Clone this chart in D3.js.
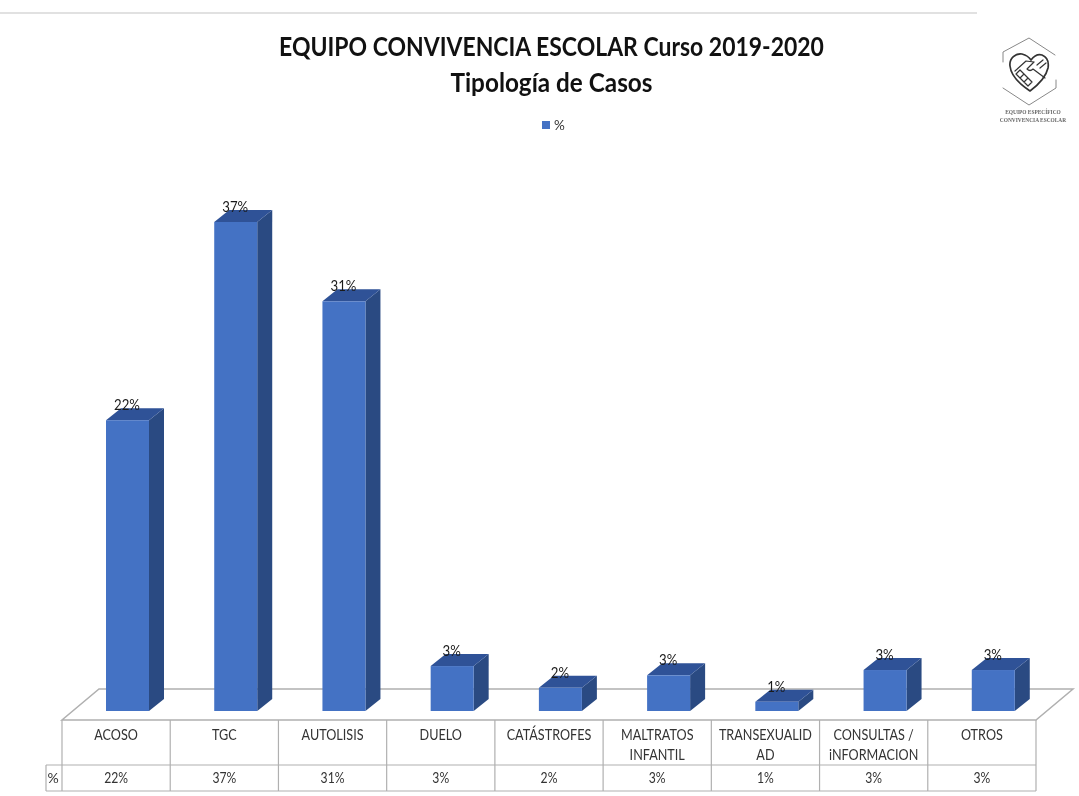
<!DOCTYPE html>
<html><head><meta charset="utf-8">
<script src="https://cdn.jsdelivr.net/npm/d3@7"></script>
<style>html,body{margin:0;padding:0;background:#fff}svg{display:block;filter:blur(0.45px)}text{font-family:Lato,"Open Sans",sans-serif}</style>
</head><body><svg id="c" width="1079" height="796"></svg>
<script>
const titleLines = ["EQUIPO CONVIVENCIA ESCOLAR Curso 2019-2020", "Tipología de Casos"];
const seriesName = "%";
const categories = ["ACOSO","TGC","AUTOLISIS","DUELO","CATÁSTROFES","MALTRATOS|INFANTIL","TRANSEXUALID|AD","CONSULTAS /|iNFORMACION","OTROS"];
const values = [22, 37, 31, 3.4, 1.75, 2.7, 0.7, 3.1, 3.1];
const valueLabels = ["22%","37%","31%","3%","2%","3%","1%","3%","3%"];

const svg = d3.select("#c");
const W = {left:62, right:1036, base:711, floorFront:720, floorBack:689, floorDx:37, rowA:765, rowB:791, keyLeft:46};
const depth = {dx:15, dy:12};
const x = d3.scaleBand().domain(categories).range([W.left, W.right]);
const y = d3.scaleLinear().domain([0, 37]).range([W.base, 222]);
const barW = 43, barOff = 44;
const gridColor = "#b0b0b0", frontColor = "#4472c4", sideColor = "#2a4a82", topColor = "#2f5297";
// The reference face is narrower than Lato: squeeze each text run horizontally.
const squeeze = k => function(){
  this.setAttribute("textLength", this.getComputedTextLength()*k);
  this.setAttribute("lengthAdjust","spacingAndGlyphs");
};

svg.append("line").attr("x1",0).attr("x2",977).attr("y1",13).attr("y2",13).attr("stroke","#c4c4c4").attr("stroke-width",1.2);

svg.selectAll(".title").data(titleLines).join("text").attr("class","title")
  .attr("x",551.5).attr("y",(d,i)=>56+i*36).attr("text-anchor","middle")
  .attr("font-size",26).attr("font-weight",700).attr("fill","#111").text(d=>d)
  .each(function(d,i){ squeeze(i===0?0.883:0.935).call(this); });

svg.append("rect").attr("x",542).attr("y",121).attr("width",8).attr("height",8).attr("fill",frontColor);
svg.append("text").attr("x",554).attr("y",130).attr("font-size",13.5).attr("fill","#333").text(seriesName);

// floor
svg.append("path").attr("fill","#fff").attr("stroke",gridColor).attr("stroke-width",1.5)
  .attr("d",d3.line()([[W.left,W.floorFront],[W.right,W.floorFront],[W.right+W.floorDx,W.floorBack],[W.left+W.floorDx,W.floorBack]])+"Z");

// bars
const bars = svg.selectAll(".bar").data(categories.map((c,i)=>({c,v:values[i],l:valueLabels[i]}))).join("g").attr("class","bar");
bars.append("path").attr("fill",sideColor).attr("d",d=>{const a=x(d.c)+barOff+barW,t=y(d.v);
  return d3.line()([[a,W.base],[a+depth.dx,W.base-depth.dy],[a+depth.dx,t-depth.dy],[a,t]])+"Z";});
bars.append("path").attr("fill",topColor).attr("d",d=>{const a=x(d.c)+barOff,t=y(d.v);
  return d3.line()([[a,t],[a+depth.dx,t-depth.dy],[a+barW+depth.dx,t-depth.dy],[a+barW,t]])+"Z";});
bars.append("rect").attr("fill",frontColor).attr("x",d=>x(d.c)+barOff).attr("width",barW)
  .attr("y",d=>y(d.v)).attr("height",d=>W.base-y(d.v));
bars.append("text").attr("x",d=>x(d.c)+barOff+21).attr("y",d=>y(d.v)-10)
  .attr("text-anchor","middle").attr("font-size",15).attr("fill","#1a1a1a").text(d=>d.l)
  .each(squeeze(0.88));

// data table
const tbl = svg.append("g").attr("stroke",gridColor).attr("stroke-width",1.2).attr("fill","none");
tbl.append("path").attr("d",d3.line()([[W.keyLeft,W.rowA],[W.right,W.rowA]]));
tbl.append("path").attr("d",d3.line()([[W.keyLeft,W.rowB],[W.right,W.rowB]]));
tbl.append("path").attr("d",d3.line()([[W.keyLeft,W.rowA],[W.keyLeft,W.rowB]]));
tbl.selectAll(".v").data(categories.map(c=>x(c)).concat([W.right])).join("line").attr("class","v")
  .attr("x1",d=>d).attr("x2",d=>d).attr("y1",W.floorFront).attr("y2",W.rowB);

const catLines = categories.flatMap(c=>c.split("|").map((t,i)=>({c,t,i})));
svg.selectAll(".cat").data(catLines).join("text").attr("class","cat")
  .attr("x",d=>x(d.c)+x.bandwidth()/2).attr("y",d=>740+d.i*20)
  .attr("text-anchor","middle").attr("font-size",14.5).attr("fill","#333").text(d=>d.t)
  .each(squeeze(0.87));
svg.selectAll(".val").data(valueLabels).join("text").attr("class","val")
  .attr("x",(d,i)=>x(categories[i])+x.bandwidth()/2).attr("y",783)
  .attr("text-anchor","middle").attr("font-size",14.5).attr("fill","#333").text(d=>d)
  .each(squeeze(0.84));
svg.append("text").attr("x",53).attr("y",783).attr("text-anchor","middle").attr("font-size",14).attr("fill","#333").text(seriesName);

// logo
const logo = svg.append("g").attr("fill","none").attr("stroke","#333").attr("stroke-linecap","round").attr("stroke-linejoin","round");
logo.append("path").attr("stroke-width",1).attr("stroke","#888")
  .attr("d","M1003 62V52L1029 38L1055 55M1056 80V88L1029 105L1003 88");
logo.append("path").attr("stroke-width",1.7)
  .attr("d","M1030 91C1021 85 1011 76 1010 66C1009 58 1016 53 1022 54C1026 55 1029 57 1031 60C1034 56 1038 54 1042 55C1047 57 1049 62 1048 68C1046 77 1038 85 1030 91Z");
logo.append("path").attr("stroke-width",1.2)
  .attr("d","M1015 71L1026 61L1034 62M1034 62L1027 69C1029 71 1031 71 1033 69L1045 78M1037 65L1043 60M1040 68L1046 63M1016 74L1020 70L1024 74L1020 78ZM1020 78L1024 74L1028 78L1024 82ZM1024 82L1028 78L1032 82L1028 86Z");
["EQUIPO ESPECÍFICO","CONVIVENCIA ESCOLAR"].forEach((t,i)=>
  svg.append("text").attr("x",1033).attr("y",114+i*7.5).attr("text-anchor","middle")
    .style("font-family","'Liberation Serif',serif").attr("font-size",5.4).attr("font-weight",700).attr("fill","#666").text(t));
</script></body></html>
